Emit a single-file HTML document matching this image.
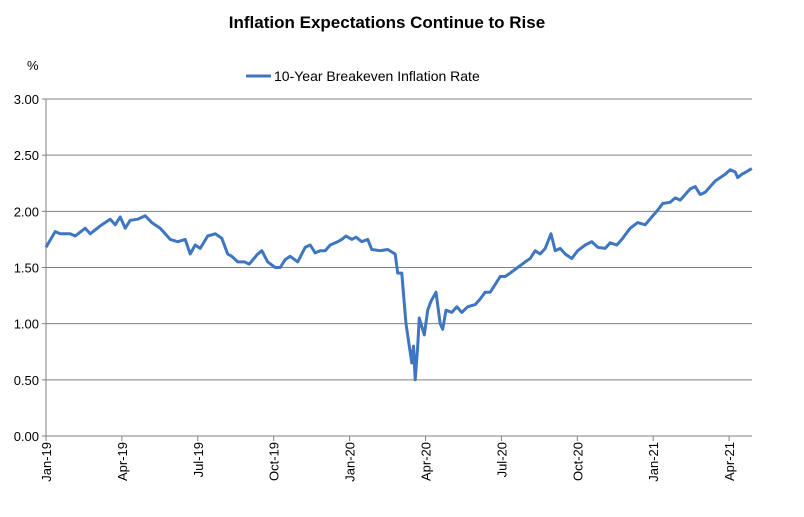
<!DOCTYPE html>
<html><head><meta charset="utf-8"><style>
body{margin:0;background:#fff;font-family:"Liberation Sans",Arial,sans-serif}
</style></head><body>
<svg width="804" height="512" xmlns="http://www.w3.org/2000/svg">
<text x="387" y="28" text-anchor="middle" font-size="17" font-weight="bold">Inflation Expectations Continue to Rise</text>
<text x="27" y="70" font-size="13">%</text>
<g>
<line x1="246" y1="76" x2="271" y2="76" stroke="#3E76BF" stroke-width="3"/>
<text x="274" y="81" font-size="14">10-Year Breakeven Inflation Rate</text>
</g>
<g id="grid"></g><g id="axes"></g><g id="series"></g>
</svg>
<script>
const yTicks=[0,0.5,1,1.5,2,2.5,3];
const xLabels=["Jan-19","Apr-19","Jul-19","Oct-19","Jan-20","Apr-20","Jul-20","Oct-20","Jan-21","Apr-21"];
const days=[0,11,17,29,35,47,53,65,77,83,89,95,101,110,119,127,137,143,149,158,167,173,179,185,194,203,211,218,223,230,238,244,254,259,266,275,281,287,293,302,311,317,323,329,335,341,350,355,360,367,372,379,386,391,401,410,419,422,427,428,432,436,439,441,443,446,448,454,458,462,468,473,476,480,487,493,499,506,515,521,527,533,539,545,551,557,566,575,581,587,593,599,606,611,617,623,631,638,647,655,662,671,677,685,691,701,710,719,727,733,740,749,755,761,767,773,779,785,791,797,803,809,815,821,827,830,835,840,847];
const values=[1.68,1.82,1.80,1.80,1.78,1.85,1.80,1.87,1.93,1.88,1.95,1.85,1.92,1.93,1.96,1.90,1.85,1.80,1.75,1.73,1.75,1.62,1.70,1.67,1.78,1.80,1.76,1.62,1.60,1.55,1.55,1.53,1.62,1.65,1.55,1.50,1.50,1.57,1.60,1.55,1.68,1.70,1.63,1.65,1.65,1.70,1.73,1.75,1.78,1.75,1.77,1.73,1.75,1.66,1.65,1.66,1.62,1.45,1.45,1.35,1.00,0.80,0.65,0.80,0.50,0.80,1.05,0.90,1.12,1.20,1.28,1.00,0.95,1.12,1.10,1.15,1.10,1.15,1.17,1.22,1.28,1.28,1.35,1.42,1.42,1.45,1.50,1.55,1.58,1.65,1.62,1.67,1.80,1.65,1.67,1.62,1.58,1.65,1.70,1.73,1.68,1.67,1.72,1.70,1.75,1.85,1.90,1.88,1.95,2.00,2.07,2.08,2.12,2.10,2.15,2.20,2.22,2.15,2.17,2.22,2.27,2.30,2.33,2.37,2.35,2.30,2.33,2.35,2.38];
const NS="http://www.w3.org/2000/svg";
const X0=46,X1=752,Y0=436,Y1=99;
const xs=d=>X0+d/1.2;
const ys=v=>Y0-(v/3)*(Y0-Y1);
const grid=document.getElementById('grid'),axes=document.getElementById('axes'),ser=document.getElementById('series');
function mk(tag,attrs,parent){const e=document.createElementNS(NS,tag);for(const k in attrs)e.setAttribute(k,attrs[k]);parent.appendChild(e);return e;}
yTicks.forEach(t=>{
  const y=ys(t);
  if(t>0){const l=mk('line',{x1:X0,x2:X1,y1:y,y2:y,stroke:'#808080','stroke-width':1},grid);
  
  }
  const tx=mk('text',{x:X0-7,y:y+5,'text-anchor':'end','font-size':13},axes);
  tx.textContent=t.toFixed(2);
  
  
  mk('line',{x1:X0-4,x2:X0,y1:y,y2:y,stroke:'#808080'},axes);
});
mk('line',{x1:X0,x2:X0,y1:Y1,y2:Y0,stroke:'#808080'},axes);
mk('line',{x1:X0,x2:X1,y1:Y0,y2:Y0,stroke:'#808080'},axes);
xLabels.forEach((s,i)=>{
  const x=X0+i*75.9;
  mk('line',{x1:x,x2:x,y1:Y0,y2:Y0+5,stroke:'#808080'},axes);
  const t=mk('text',{x:0,y:0,'text-anchor':'end','font-size':13,transform:`translate(${x+5},${Y0+6}) rotate(-90)`},axes);
  t.textContent=s;
  
  
});
const n=Math.min(days.length,values.length);
let d='';for(let i=0;i<n;i++)d+=(i?'L':'M')+xs(days[i]).toFixed(1)+','+ys(values[i]).toFixed(1);
const p=mk('path',{d:d,fill:'none',stroke:'#3E76BF','stroke-width':3,'stroke-linejoin':'round'},ser);


</script>
</body></html>
